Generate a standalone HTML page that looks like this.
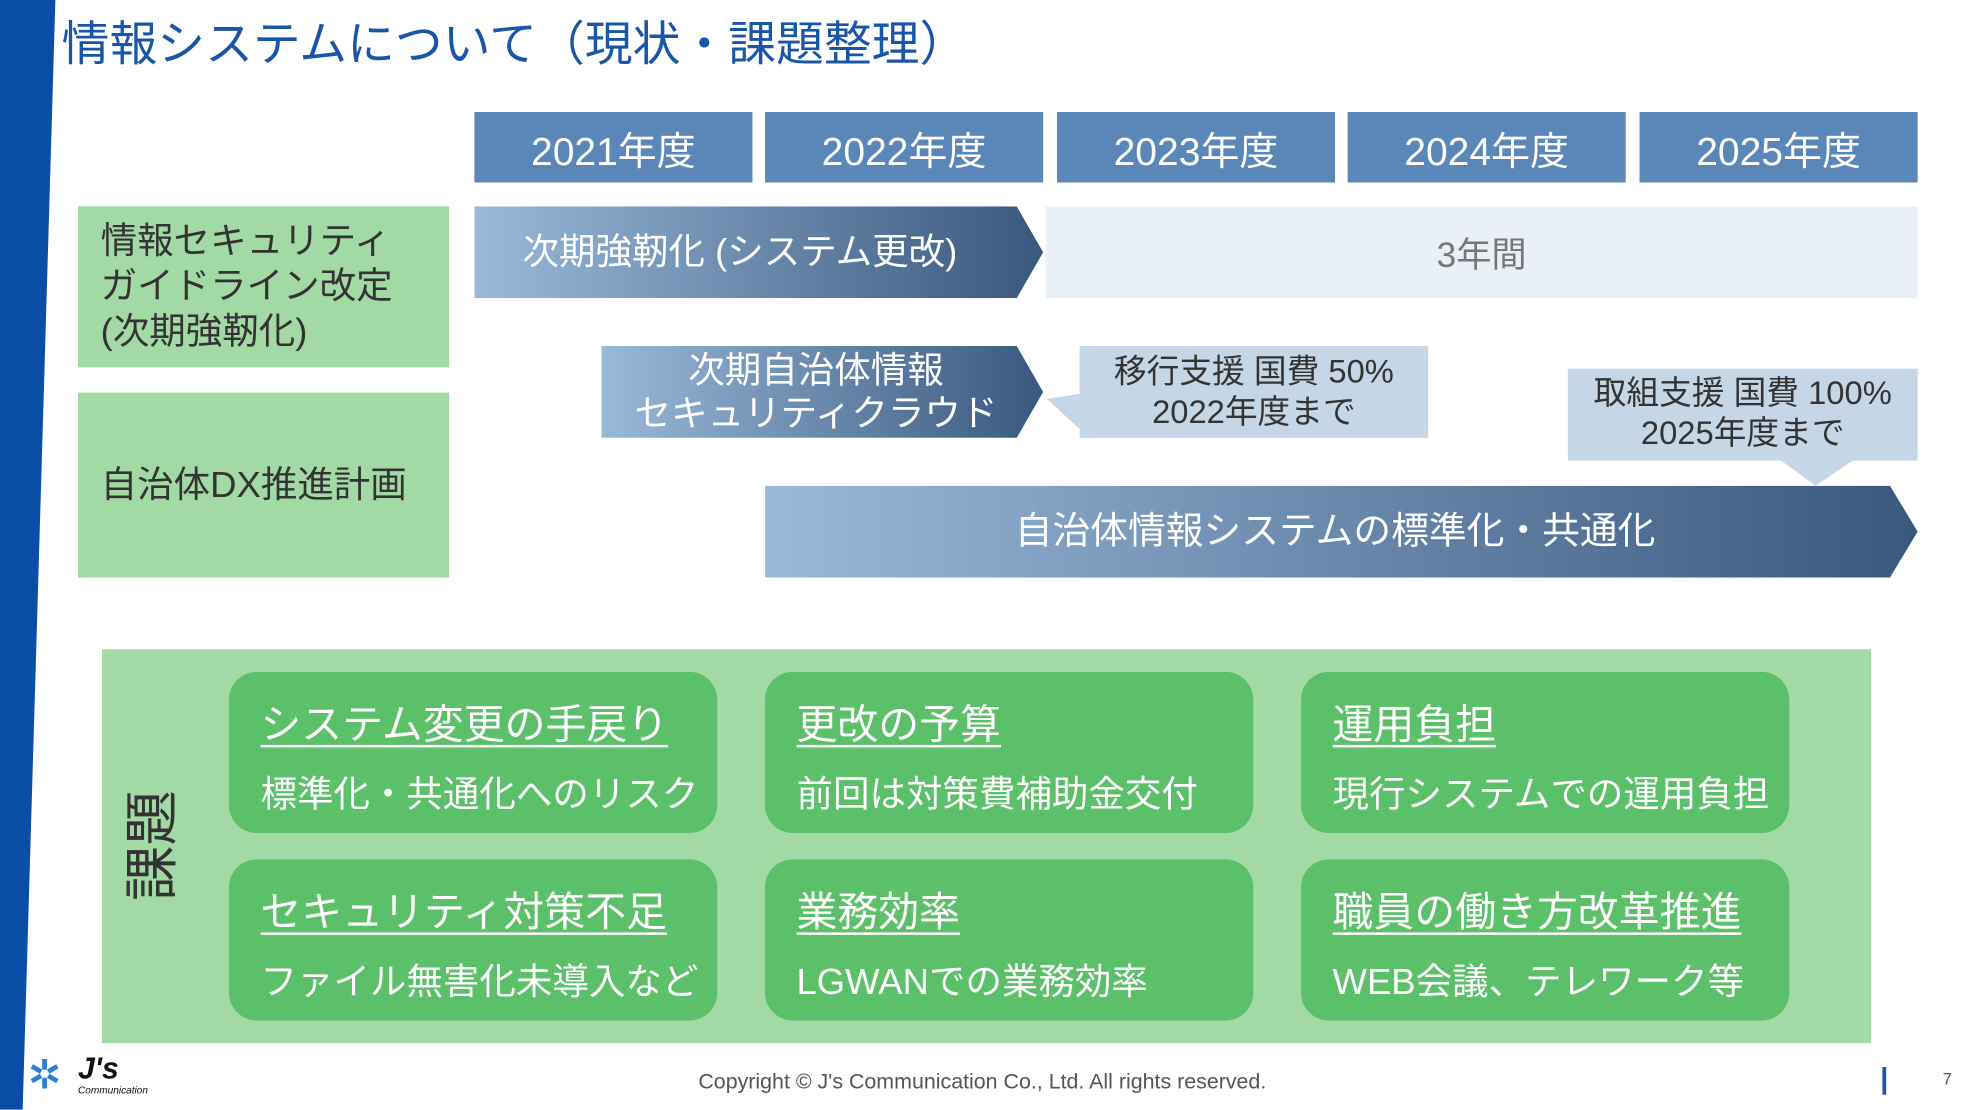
<!DOCTYPE html>
<html><head><meta charset="utf-8"><style>
html,body{margin:0;padding:0;background:#fff;overflow:hidden;}
body{width:1973px;height:1110px;position:relative;}
#w{position:absolute;left:0;top:0;width:1568px;height:882px;transform:scale(1.25829);transform-origin:0 0;font-family:"Liberation Sans","Noto Sans CJK JP",sans-serif;}
.a{position:absolute;box-sizing:border-box;}
.yr{top:89px;height:56px;width:221px;background:#5b87b8;color:#fff;font-size:31px;display:flex;align-items:center;justify-content:center;}
.gl{background:#a3d9a5;color:#333;font-size:29px;left:62px;width:295px;padding-left:18px;line-height:36px;display:flex;align-items:center;white-space:nowrap;}
.ar{background:linear-gradient(90deg,#9ab8d8,#3a587e);color:#fff;font-size:29px;display:flex;align-items:center;justify-content:center;text-align:center;line-height:34px;white-space:nowrap;}
.cb{background:#c5d6e6;color:#333;font-size:26px;text-align:center;line-height:32px;white-space:nowrap;}
.t{background:#5cbf6a;border-radius:22px;width:388px;height:128px;color:#fff;padding-left:25px;}
.t .h{font-size:32.5px;text-decoration:underline;text-underline-offset:5px;text-decoration-thickness:2px;margin-top:22px;height:40px;line-height:40px;white-space:nowrap;}
.t .s{font-size:29px;margin-top:19px;line-height:34px;white-space:nowrap;}
</style></head><body><div id="w">
<svg class="a" style="left:0;top:0" width="50" height="882"><polygon points="0,0 44,0 18,882 0,882" fill="#0a4ea8"/></svg>
<div class="a" style="left:49px;top:4px;font-size:38px;color:#1a56a8;white-space:nowrap;">情報システムについて（現状・課題整理）</div>

<div class="a yr" style="left:377px">2021年度</div>
<div class="a yr" style="left:608px">2022年度</div>
<div class="a yr" style="left:840px">2023年度</div>
<div class="a yr" style="left:1071px">2024年度</div>
<div class="a yr" style="left:1303px">2025年度</div>

<div class="a gl" style="top:164px;height:128px;">情報セキュリティ<br>ガイドライン改定<br>(次期強靭化)</div>
<div class="a gl" style="top:312px;height:147px;">自治体DX推進計画</div>

<div class="a ar" style="left:377px;top:164px;width:452px;height:73px;clip-path:polygon(0 0,431px 0,100% 50%,431px 100%,0 100%);padding-right:30px;">次期強靭化 (システム更改)</div>
<div class="a" style="left:831px;top:164px;width:693px;height:73px;background:#eaf0f7;color:#777;font-size:28px;display:flex;align-items:center;justify-content:center;">3年間</div>

<div class="a ar" style="left:478px;top:275px;width:351px;height:73px;clip-path:polygon(0 0,330px 0,100% 50%,330px 100%,0 100%);padding-right:10px;">次期自治体情報<br>セキュリティクラウド</div>
<svg class="a" style="left:830px;top:275px" width="310" height="80"><polygon points="28,38 2,42 28,66" fill="#c5d6e6"/></svg>
<div class="a cb" style="left:858px;top:275px;width:277px;height:73px;padding-top:4px;">移行支援 国費 50%<br>2022年度まで</div>
<div class="a cb" style="left:1246px;top:293px;width:278px;height:73px;padding-top:3px;">取組支援 国費 100%<br>2025年度まで</div>
<svg class="a" style="left:1400px;top:365px" width="80" height="25"><polygon points="14,0 74,0 43,21" fill="#c5d6e6"/></svg>

<div class="a ar" style="left:608px;top:386px;width:916px;height:73px;clip-path:polygon(0 0,894px 0,100% 50%,894px 100%,0 100%);padding-right:10px;font-size:30px;">自治体情報システムの標準化・共通化</div>

<div class="a" style="left:81px;top:516px;width:1406px;height:313px;background:#a3d9a5;"></div>
<div class="a" style="left:78px;top:647px;width:88px;height:50px;font-size:44px;line-height:50px;color:#333;transform:rotate(-90deg);text-align:center;white-space:nowrap;">課題</div>

<div class="a t" style="left:182px;top:534px"><div class="h">システム変更の手戻り</div><div class="s">標準化・共通化へのリスク</div></div>
<div class="a t" style="left:608px;top:534px"><div class="h">更改の予算</div><div class="s">前回は対策費補助金交付</div></div>
<div class="a t" style="left:1034px;top:534px"><div class="h">運用負担</div><div class="s">現行システムでの運用負担</div></div>
<div class="a t" style="left:182px;top:683px"><div class="h">セキュリティ対策不足</div><div class="s">ファイル無害化未導入など</div></div>
<div class="a t" style="left:608px;top:683px"><div class="h">業務効率</div><div class="s">LGWANでの業務効率</div></div>
<div class="a t" style="left:1034px;top:683px"><div class="h">職員の働き方改革推進</div><div class="s">WEB会議、テレワーク等</div></div>

<div class="a" style="left:22px;top:838px;font-size:32px;color:#2a7fd6;line-height:32px;">✲</div>
<div class="a" style="left:62px;top:838px;font-size:24px;font-weight:bold;font-style:italic;color:#111;line-height:24px;">J's</div>
<div class="a" style="left:62px;top:862px;font-size:8px;font-style:italic;color:#111;">Communication</div>
<div class="a" style="left:555px;top:850px;font-size:17px;color:#555;white-space:nowrap;">Copyright © J's Communication Co., Ltd. All rights reserved.</div>
<div class="a" style="left:1496px;top:848px;width:3px;height:22px;background:#1a56a8;"></div>
<div class="a" style="left:1544px;top:850px;font-size:13px;color:#555;">7</div>
</div></body></html>
